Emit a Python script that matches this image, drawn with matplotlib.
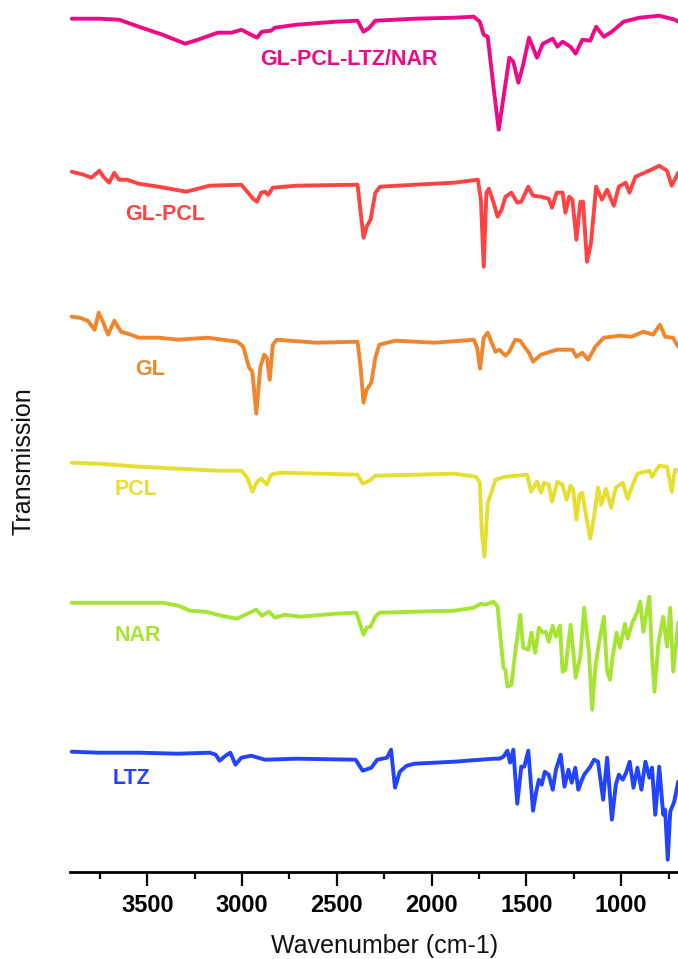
import matplotlib
matplotlib.use("Agg")
import matplotlib.pyplot as plt
from matplotlib.ticker import MultipleLocator

plt.rcParams['font.family'] = ['Liberation Sans', 'DejaVu Sans']

# ---- data (wavenumber in cm-1, stacked transmission in a.u.) ----
names = ["GL-PCL-LTZ/NAR", "GL-PCL", "GL", "PCL", "NAR", "LTZ"]
colors = ["#EE0A86", "#FF4242", "#F0862C", "#E6DE32", "#A6E434", "#2244FF"]

wn_glpclltznar = [3899, 3753, 3649, 3545, 3420, 3300, 3233, 3129, 3056, 3004, 2963, 2921, 2896, 2848, 2827,
                  2713, 2505, 2391, 2359, 2328, 2297, 2089, 1881, 1777, 1746, 1725, 1704, 1673, 1646, 1621,
                  1590, 1569, 1542, 1517, 1486, 1444, 1413, 1361, 1336, 1309, 1267, 1240, 1205, 1163, 1132,
                  1091, 1049, 987, 903, 799, 716, 699]
t_glpclltznar = [853, 853, 852, 845, 837, 828, 832, 839, 839, 842, 838, 834, 840, 841, 844,
                 847, 850, 851, 840, 844, 851, 853, 854, 855, 850, 837, 835, 784, 742, 774,
                 814, 810, 789, 807, 834, 814, 828, 833, 825, 830, 825, 818, 832, 831, 845,
                 835, 840, 850, 854, 856, 852, 850]

wn_glpcl = [3899, 3836, 3795, 3753, 3732, 3701, 3674, 3649, 3607, 3545, 3441, 3295, 3171, 3004, 2973,
            2942, 2921, 2900, 2879, 2863, 2838, 2713, 2391, 2376, 2359, 2343, 2322, 2297, 2272, 2089,
            1881, 1756, 1740, 1725, 1711, 1698, 1673, 1652, 1631, 1610, 1579, 1548, 1527, 1490, 1465,
            1423, 1382, 1365, 1340, 1309, 1294, 1274, 1257, 1236, 1215, 1201, 1180, 1159, 1132, 1101,
            1074, 1039, 1012, 976, 956, 924, 841, 799, 758, 733, 699]
t_glpcl = [700, 697, 694, 701, 695, 689, 699, 692, 692, 688, 685, 680, 686, 687, 680,
           673, 670, 679, 680, 677, 684, 686, 687, 662, 634, 645, 652, 679, 685, 687,
           689, 692, 672, 605, 679, 683, 669, 655, 662, 675, 679, 669, 670, 685, 676,
           675, 673, 664, 679, 679, 659, 675, 672, 632, 670, 670, 610, 629, 685, 672,
           682, 666, 685, 689, 679, 695, 702, 706, 701, 686, 699]

wn_gl = [3899, 3857, 3815, 3778, 3757, 3732, 3707, 3674, 3639, 3587, 3545, 3441, 3337, 3181, 3025,
         2994, 2963, 2946, 2925, 2904, 2884, 2869, 2854, 2838, 2817, 2609, 2391, 2376, 2359, 2343,
         2318, 2297, 2276, 2193, 1985, 1777, 1760, 1744, 1725, 1704, 1683, 1663, 1642, 1611, 1590,
         1559, 1532, 1507, 1486, 1465, 1423, 1340, 1257, 1236, 1205, 1174, 1136, 1091, 1008, 945,
         883, 831, 795, 768, 727, 699]
t_gl = [555, 554, 551, 542, 559, 549, 537, 551, 540, 537, 534, 534, 532, 534, 530,
        525, 504, 500, 458, 504, 517, 514, 492, 527, 532, 529, 530, 507, 469, 482,
        489, 514, 527, 531, 529, 532, 524, 503, 534, 539, 529, 520, 522, 516, 520,
        532, 531, 524, 519, 510, 517, 522, 522, 515, 519, 512, 525, 534, 536, 535,
        540, 537, 547, 535, 534, 525]

wn_pcl = [3899, 3753, 3545, 3337, 3129, 3004, 2973, 2946, 2921, 2900, 2884, 2869, 2848, 2796, 2391,
          2364, 2328, 2297, 1881, 1767, 1746, 1735, 1721, 1704, 1683, 1663, 1611, 1496, 1475, 1444,
          1423, 1407, 1382, 1365, 1336, 1309, 1288, 1267, 1253, 1236, 1220, 1205, 1184, 1163, 1143,
          1122, 1105, 1080, 1053, 1028, 991, 966, 945, 914, 851, 837, 799, 758, 733, 716, 699]
t_pcl = [409, 408, 405, 403, 401, 401, 394, 380, 390, 393, 390, 387, 397, 399, 397,
         388, 391, 396, 398, 395, 389, 339, 315, 369, 380, 392, 395, 397, 380, 390,
         379, 389, 387, 370, 390, 387, 372, 386, 382, 352, 377, 379, 355, 333, 355,
         384, 367, 383, 364, 384, 389, 373, 384, 398, 401, 395, 406, 405, 380, 402, 401]

wn_nar = [3899, 3649, 3420, 3337, 3275, 3191, 3108, 3029, 2983, 2925, 2896, 2858, 2827, 2775, 2692,
          2505, 2397, 2380, 2359, 2343, 2322, 2297, 2276, 2089, 1881, 1777, 1740, 1715, 1673, 1652,
          1636, 1621, 1611, 1600, 1579, 1559, 1532, 1517, 1490, 1473, 1454, 1434, 1413, 1398, 1382,
          1361, 1344, 1323, 1309, 1294, 1267, 1257, 1240, 1215, 1195, 1170, 1153, 1136, 1116, 1091,
          1074, 1059, 1045, 1024, 1007, 980, 966, 941, 914, 899, 883, 866, 851, 837, 824,
          803, 778, 758, 741, 725, 699]
t_nar = [269, 269, 269, 266, 261, 260, 256, 253, 257, 262, 256, 260, 254, 257, 255,
         258, 259, 249, 237, 244, 245, 255, 259, 260, 261, 264, 268, 267, 270, 265,
         232, 204, 202, 185, 187, 219, 257, 224, 222, 239, 219, 244, 239, 240, 230,
         246, 235, 246, 200, 202, 247, 229, 194, 215, 264, 219, 162, 205, 230, 255,
         200, 192, 215, 239, 224, 248, 233, 249, 260, 270, 240, 259, 275, 215, 180,
         229, 255, 225, 264, 200, 249]

wn_ltz = [3899, 3753, 3545, 3337, 3171, 3139, 3119, 3087, 3062, 3035, 3004, 2952, 2879, 2713, 2401,
          2364, 2318, 2287, 2235, 2214, 2193, 2168, 2131, 2089, 1881, 1673, 1642, 1621, 1600, 1586,
          1569, 1548, 1527, 1511, 1490, 1465, 1448, 1434, 1419, 1403, 1382, 1361, 1344, 1319, 1299,
          1278, 1261, 1242, 1226, 1211, 1195, 1163, 1143, 1122, 1095, 1074, 1049, 1028, 1012, 991,
          974, 955, 935, 914, 893, 872, 851, 837, 820, 799, 778, 768, 754, 741, 720, 699]
t_ltz = [120, 119, 119, 118, 119, 117, 111, 116, 119, 107, 114, 116, 112, 113, 112,
         101, 104, 112, 114, 122, 84, 100, 106, 108, 110, 113, 113, 115, 121, 109,
         122, 68, 105, 105, 121, 61, 80, 92, 87, 100, 97, 82, 102, 117, 85,
         102, 89, 104, 82, 90, 97, 105, 112, 110, 72, 114, 52, 87, 97, 92,
         99, 110, 84, 104, 82, 110, 94, 104, 57, 105, 57, 62, 12, 60, 70, 90]

# label anchor points (wavenumber, a.u.)
label_wn = [2436, 3407, 3486, 3560, 3551, 3581]
label_t = [807, 652, 497, 377, 231, 88]

x_ticks = [3500, 3000, 2500, 2000, 1500, 1000]

wns = [wn_glpclltznar, wn_glpcl, wn_gl, wn_pcl, wn_nar, wn_ltz]
ts = [t_glpclltznar, t_glpcl, t_gl, t_pcl, t_nar, t_ltz]

# ---- figure ----
fig = plt.figure(figsize=(6.78, 9.59), dpi=100)
ax = fig.add_axes([70 / 678, 1 - 871.7 / 959, 1 - 70 / 678, 871.7 / 959])

for w, t, c in zip(wns, ts, colors):
    ax.plot(w, t, color=c, lw=2.8, solid_joinstyle='round', solid_capstyle='round', clip_on=False)

for name, lw_, lt, c in zip(names, label_wn, label_t, colors):
    ax.text(lw_, lt, name, color=c, fontsize=15.5, fontweight='bold',
            ha='center', va='baseline')

ax.set_xlim(3908, 700)
ax.set_ylim(0, 871.7)
ax.set_xticks(x_ticks)
ax.set_xticklabels([str(v) for v in x_ticks])
ax.xaxis.set_minor_locator(MultipleLocator(250))
ax.tick_params(axis='x', which='major', direction='out', length=10, width=1.6,
               labelsize=17, pad=6)
ax.tick_params(axis='x', which='minor', direction='out', length=5, width=1.6)
for lab in ax.get_xticklabels():
    lab.set_fontweight('bold')
ax.set_yticks([])
for s in ['left', 'top', 'right']:
    ax.spines[s].set_visible(False)
ax.spines['bottom'].set_linewidth(2.0)

fig.text(385 / 678, 1 - 946 / 959, "Wavenumber (cm-1)", fontsize=18,
         ha='center', va='center', color='#111111')
fig.text(24 / 678, 1 - 461.5 / 959, "Transmission", fontsize=18, rotation=90,
         ha='center', va='center', color='#111111')

fig.savefig("out.png", dpi=100)
